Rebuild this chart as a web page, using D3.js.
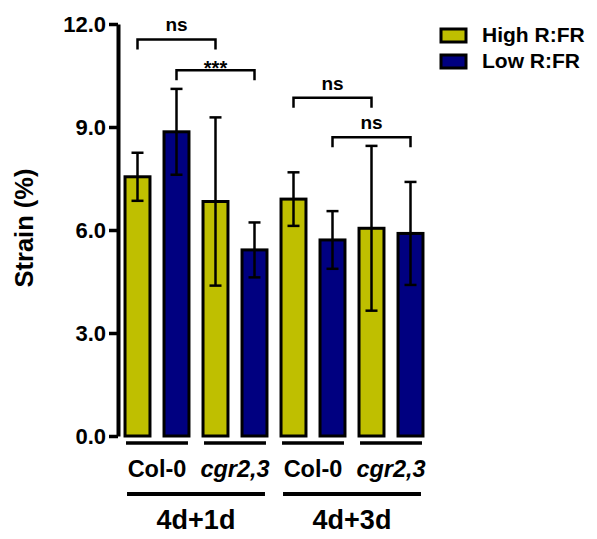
<!DOCTYPE html>
<html>
<head>
<meta charset="utf-8">
<script src="https://cdn.jsdelivr.net/npm/d3@7"></script>
<style>
  body { margin: 0; background: #fff; }
  text { font-family: "Liberation Sans", Arial, sans-serif; font-weight: bold; fill: #000; }
</style>
</head>
<body>
<div id="chart"></div>
<script>
// datos
const conditions = ["4d+1d", "4d+3d"];
const genotypes = ["Col-0", "cgr2,3"];
const treatments = ["High R:FR", "Low R:FR"];
const means = [7.55, 8.86, 6.83, 5.42, 6.90, 5.71, 6.05, 5.90];
const sds = [0.70, 1.25, 2.45, 0.80, 0.78, 0.84, 2.40, 1.50];
const yTicks = [0, 3, 6, 9, 12];
const sigFrom = [0, 1, 4, 5];
const sigTo = [2, 3, 6, 7];
const sigLabels = ["ns", "***", "ns", "ns"];
const sigLevels = [11.55, 10.65, 9.85, 8.7];

const colors = ["#bfbf00", "#000080"];

const bars = [];
conditions.forEach((c, ci) => {
    genotypes.forEach((g, gi) => {
        treatments.forEach((t, ti) => {
            const i = bars.length;
            bars.push({ key: i, cond: c, geno: g, treat: ti, mean: means[i], sd: sds[i] });
        });
    });
});

const svg = d3.select("#chart").append("svg")
    .attr("width", 597)
    .attr("height", 539);

// Escalas
const x = d3.scaleBand()
    .domain(bars.map(d => d.key))
    .range([118, 430])
    .paddingInner(0.36)
    .paddingOuter(0.18);

const y = d3.scaleLinear()
    .domain([0, 12])
    .range([436, 24]);

const bw = x.bandwidth();
const cx = i => x(i) + bw / 2;

// Eje Y
const yAxis = svg.append("g")
    .attr("transform", "translate(118,0)")
    .call(d3.axisLeft(y)
        .tickValues(yTicks)
        .tickFormat(d3.format(".1f"))
        .tickSize(9)
        .tickSizeOuter(0)
        .tickPadding(3));
yAxis.select(".domain").attr("stroke", "#000").attr("stroke-width", 4);
yAxis.selectAll(".tick line").attr("stroke", "#000").attr("stroke-width", 3.5);
yAxis.selectAll(".tick text")
    .attr("font-size", 22)
    .attr("font-family", "Liberation Sans, Arial, sans-serif")
    .attr("font-weight", "bold")
    .attr("dy", "0.36em");

svg.append("text")
    .attr("transform", "translate(33,228) rotate(-90)")
    .attr("text-anchor", "middle")
    .attr("font-size", 25.5)
    .text("Strain (%)");

// Barras
svg.selectAll("rect.bar")
    .data(bars)
    .enter()
    .append("rect")
    .attr("class", "bar")
    .attr("x", d => x(d.key))
    .attr("y", d => y(d.mean))
    .attr("width", bw)
    .attr("height", d => y(0) - y(d.mean))
    .attr("fill", d => colors[d.treat])
    .attr("stroke", "#000")
    .attr("stroke-width", 3);

// Barras de error
const err = svg.append("g").attr("stroke", "#000").attr("stroke-width", 2.5);
bars.forEach(d => {
    const top = y(d.mean + d.sd), bot = y(d.mean - d.sd), c = cx(d.key);
    err.append("line").attr("x1", c).attr("x2", c).attr("y1", top).attr("y2", bot);
    err.append("line").attr("x1", c - 6).attr("x2", c + 6).attr("y1", top).attr("y2", top);
    err.append("line").attr("x1", c - 6).attr("x2", c + 6).attr("y1", bot).attr("y2", bot);
});

// Significancia
const sig = svg.append("g");
sigFrom.forEach((a, k) => {
    const b = sigTo[k];
    const ly = y(sigLevels[k]);
    sig.append("path")
        .attr("d", `M${cx(a)},${ly + 10}V${ly}H${cx(b)}V${ly + 10}`)
        .attr("fill", "none")
        .attr("stroke", "#000")
        .attr("stroke-width", 2.5);
    const isStar = sigLabels[k] === "***";
    sig.append("text")
        .attr("x", (cx(a) + cx(b)) / 2)
        .attr("y", isStar ? ly + 5 : ly - 8)
        .attr("text-anchor", "middle")
        .attr("font-size", isStar ? 20 : 19)
        .text(sigLabels[k]);
});

// Etiquetas de genotipo
const pairs = [];
conditions.forEach(c => genotypes.forEach(g => pairs.push({ cond: c, geno: g })));
pairs.forEach((p, pi) => {
    const i0 = pi * 2, i1 = pi * 2 + 1;
    svg.append("line")
        .attr("x1", x(i0) + 1).attr("x2", x(i1) + bw - 1)
        .attr("y1", 443).attr("y2", 443)
        .attr("stroke", "#000").attr("stroke-width", 3.5);
    svg.append("text")
        .attr("x", (x(i0) + x(i1) + bw) / 2)
        .attr("y", 477)
        .attr("text-anchor", "middle")
        .attr("font-size", 23.5)
        .attr("font-style", p.geno === "Col-0" ? "normal" : "italic")
        .text(p.geno);
});

// Etiquetas de condicion
conditions.forEach((c, ci) => {
    const i0 = ci * 4, i1 = ci * 4 + 3;
    svg.append("line")
        .attr("x1", x(i0) + 2).attr("x2", x(i1) + bw - 2)
        .attr("y1", 494).attr("y2", 494)
        .attr("stroke", "#000").attr("stroke-width", 4);
    svg.append("text")
        .attr("x", (x(i0) + x(i1) + bw) / 2)
        .attr("y", 529)
        .attr("text-anchor", "middle")
        .attr("font-size", 27)
        .text(c);
});

// Leyenda
const legend = svg.selectAll("g.legend")
    .data(treatments)
    .enter()
    .append("g")
    .attr("class", "legend")
    .attr("transform", (d, i) => `translate(441,${29 + i * 26})`);
legend.append("rect")
    .attr("width", 25)
    .attr("height", 13)
    .attr("fill", (d, i) => colors[i])
    .attr("stroke", "#000")
    .attr("stroke-width", 3);
legend.append("text")
    .attr("x", 41)
    .attr("y", 13)
    .attr("font-size", 21)
    .text(d => d);
</script>
</body>
</html>
